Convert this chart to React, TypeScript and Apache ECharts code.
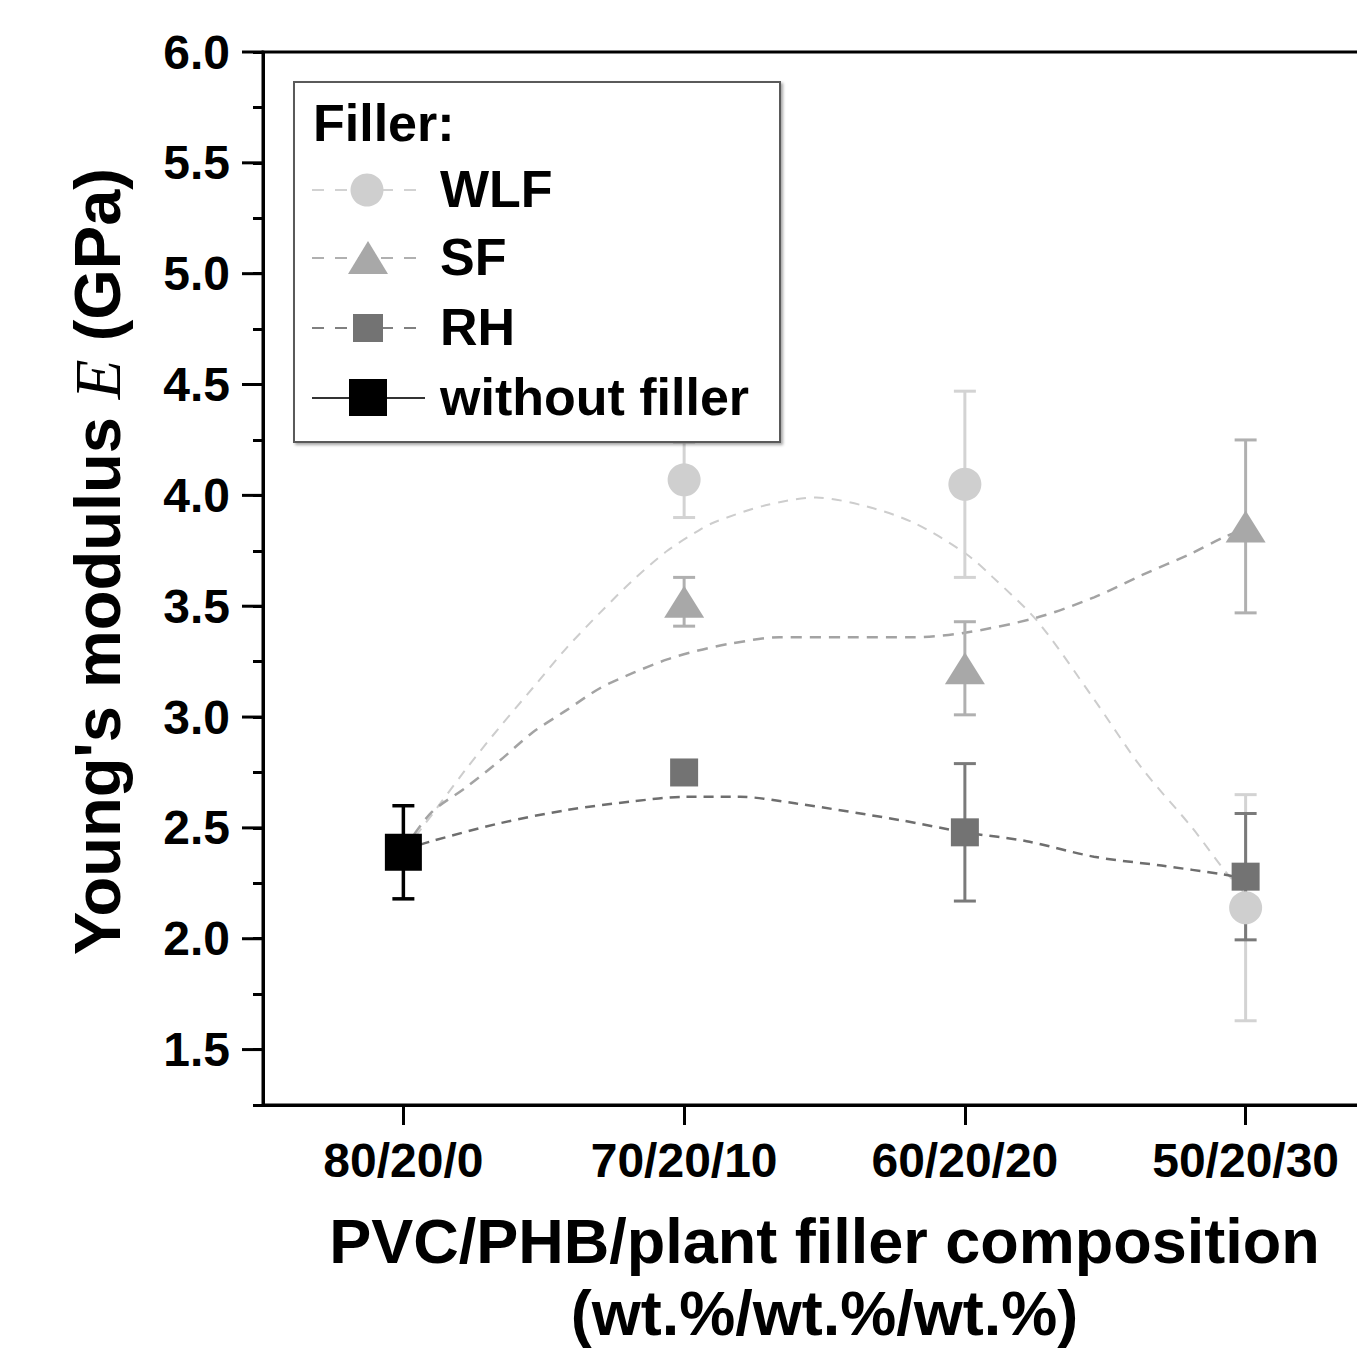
import React, { useEffect, useRef } from "react";
import * as echarts from "echarts";

// ---------- data ----------
const categories = ["80/20/0", "70/20/10", "60/20/20", "50/20/30"];
const filledX = [1, 2, 3];

const wlfMean = [4.07, 4.05, 2.14];
const wlfErr = [0.17, 0.42, 0.51];
const sfMean = [3.52, 3.22, 3.86];
const sfErr = [0.11, 0.21, 0.39];
const rhMean = [2.75, 2.48, 2.28];
const rhErr = [0.04, 0.31, 0.285];
const noFillerX = [0];
const noFillerMean = [2.39];
const noFillerErr = [0.21];

// fitted (dashed) curves: [x position, E]
const wlfFit = [
  [0, 2.4], [0.06, 2.49], [0.22, 2.76], [0.34, 2.95], [0.46, 3.13], [0.58, 3.31],
  [0.7, 3.47], [0.82, 3.62], [0.94, 3.75], [1.05, 3.84], [1.11, 3.88], [1.29, 3.955],
  [1.47, 3.99], [1.65, 3.95], [1.82, 3.875], [2.0, 3.74], [2.1, 3.63], [2.26, 3.43],
  [2.46, 3.08], [2.63, 2.77], [2.81, 2.5], [2.93, 2.3], [3.0, 2.2],
];
const sfFit = [
  [0, 2.4], [0.1, 2.57], [0.22, 2.68], [0.34, 2.8], [0.46, 2.93], [0.58, 3.03],
  [0.7, 3.13], [0.82, 3.2], [0.94, 3.26], [1.05, 3.3], [1.16, 3.33], [1.34, 3.36],
  [1.58, 3.36], [1.81, 3.36], [2.0, 3.38], [2.26, 3.45], [2.46, 3.54], [2.63, 3.64],
  [2.81, 3.74], [2.92, 3.81], [3.0, 3.85],
];
const rhFit = [
  [0, 2.4], [0.1, 2.44], [0.34, 2.52], [0.58, 2.58], [0.82, 2.62], [1.0, 2.64],
  [1.2, 2.64], [1.4, 2.61], [1.77, 2.535], [2.0, 2.48], [2.22, 2.44], [2.46, 2.37],
  [2.7, 2.33], [2.92, 2.29], [3.0, 2.27],
];

const yMajor = [1.5, 2.0, 2.5, 3.0, 3.5, 4.0, 4.5, 5.0, 5.5, 6.0];
const legendNames = ["WLF", "SF", "RH", "without filler"];

// ---------- styles ----------
const FONT = "Liberation Sans, Arial, Helvetica, sans-serif";
const C_WLF = "#cfcfcf";
const C_SF = "#a8a8a8";
const C_RH = "#737373";
const C_NF = "#000000";

function errorSeries(xs: number[], means: number[], errs: number[], color: string, lw: number, z: number) {
  return {
    type: "custom",
    xAxisIndex: 1,
    yAxisIndex: 0,
    clip: false,
    z,
    silent: true,
    data: xs.map((x, i) => [x, means[i], errs[i]]),
    renderItem: (params: any, api: any) => {
      const x = api.value(0);
      const y = api.value(1);
      const e = api.value(2);
      const top = api.coord([x, y + e]);
      const bot = api.coord([x, y - e]);
      const hw = 11;
      const st = { stroke: color, lineWidth: lw };
      return {
        type: "group",
        children: [
          { type: "line", shape: { x1: top[0], y1: top[1], x2: bot[0], y2: bot[1] }, style: st },
          { type: "line", shape: { x1: top[0] - hw, y1: top[1], x2: top[0] + hw, y2: top[1] }, style: st },
          { type: "line", shape: { x1: bot[0] - hw, y1: bot[1], x2: bot[0] + hw, y2: bot[1] }, style: st },
        ],
      };
    },
  };
}

function scatterSeries(name: string, xs: number[], means: number[], symbol: string, size: any, color: string, z: number) {
  return {
    name,
    type: "scatter",
    xAxisIndex: 1,
    yAxisIndex: 0,
    symbol,
    symbolSize: size,
    z,
    itemStyle: { color, opacity: 1 },
    data: xs.map((x, i) => [x, means[i]]),
  };
}

function fitSeries(pts: number[][], color: string, width: number, dash: number[]) {
  return {
    type: "line",
    xAxisIndex: 1,
    yAxisIndex: 0,
    smooth: 0.3,
    showSymbol: false,
    symbol: "none",
    z: 2,
    silent: true,
    lineStyle: { color, width, type: dash },
    data: pts,
  };
}

function legendGraphic() {
  const rows = [190, 258, 328, 398];
  const lx1 = 312, lx2 = 425, mx = 368, tx = 440;
  const Z = 100;
  const children: any[] = [
    {
      type: "rect",
      z: Z,
      shape: { x: 294, y: 82, width: 486, height: 360 },
      style: {
        fill: "#ffffff",
        stroke: "#5a5a5a",
        lineWidth: 2,
        shadowBlur: 3,
        shadowOffsetX: 2,
        shadowOffsetY: 2,
        shadowColor: "rgba(0,0,0,0.35)",
      },
    },
    {
      type: "text",
      z: Z + 1,
      x: 313,
      y: 123,
      style: { text: "Filler:", font: `bold 52px ${FONT}`, fill: "#000", align: "left", verticalAlign: "middle", textAlign: "left", textVerticalAlign: "middle" },
    },
  ];
  const lineColors = ["#d2d2d2", "#b0b0b0", "#808080", "#333333"];
  rows.forEach((y, i) => {
    children.push({
      type: "line",
      z: Z + 1,
      shape: { x1: lx1, y1: y, x2: lx2, y2: y },
      style: { stroke: lineColors[i], lineWidth: 2, lineDash: i < 3 ? [12, 11] : null },
    });
  });
  children.push({ type: "circle", z: Z + 2, shape: { cx: mx - 1, cy: rows[0], r: 16.5 }, style: { fill: C_WLF } });
  children.push({ type: "polygon", z: Z + 2, shape: { points: [[348, rows[1] + 16], [388, rows[1] + 16], [368, rows[1] - 17]] }, style: { fill: C_SF } });
  children.push({ type: "rect", z: Z + 2, shape: { x: 353, y: rows[2] - 14, width: 30, height: 28 }, style: { fill: C_RH } });
  children.push({ type: "rect", z: Z + 2, shape: { x: 349, y: rows[3] - 19, width: 38, height: 37 }, style: { fill: C_NF } });
  const textY = [189, 257, 327, 397];
  legendNames.forEach((n, i) => {
    children.push({
      type: "text",
      z: Z + 2,
      x: tx,
      y: textY[i],
      style: { text: n, font: `bold 52px ${FONT}`, fill: "#000", align: "left", verticalAlign: "middle", textAlign: "left", textVerticalAlign: "middle" },
    });
  });
  return { elements: [{ type: "group", z: Z, children }] };
}

export default function App() {
  const ref = useRef<HTMLDivElement>(null);

  useEffect(() => {
    if (!ref.current) return;
    const chart = echarts.init(ref.current, null, { renderer: "svg" });
    const axisColor = "#000";
    const option: any = {
      animation: false,
      backgroundColor: "#ffffff",
      grid: {
        left: 263,
        top: 52,
        width: 1123,
        height: 1053,
        outerBoundsMode: "none",
        containLabel: false,
        show: true,
        borderColor: axisColor,
        borderWidth: 3,
        backgroundColor: "transparent",
      },
      xAxis: [
        {
          type: "category",
          data: categories,
          boundaryGap: true,
          position: "bottom",
          axisLine: { show: true, onZero: false, lineStyle: { color: axisColor, width: 3 } },
          axisTick: { show: true, alignWithLabel: true, length: 20, lineStyle: { color: axisColor, width: 3 } },
          axisLabel: { color: "#000", fontSize: 48, fontWeight: "bold", fontFamily: FONT, margin: 31 },
          splitLine: { show: false },
          name: "PVC/PHB/plant filler composition\n(wt.%/wt.%/wt.%)",
          nameLocation: "middle",
          nameGap: 100,
          nameTextStyle: { color: "#000", fontSize: 63, fontWeight: "bold", fontFamily: FONT, lineHeight: 72 },
        },
        {
          type: "value",
          min: -0.5,
          max: 3.5,
          show: false,
          axisLine: { show: false, onZero: false },
          axisTick: { show: false },
          axisLabel: { show: false },
          splitLine: { show: false },
        },
      ],
      yAxis: [
        {
          type: "value",
          min: 1.25,
          max: 6.0,
          interval: 0.25,
          axisLine: { show: true, onZero: false, lineStyle: { color: axisColor, width: 3 } },
          axisTick: { show: true, length: 10, lineStyle: { color: axisColor, width: 3 } },
          axisLabel: {
            color: "#000",
            fontSize: 48,
            fontWeight: "bold",
            fontFamily: FONT,
            margin: 33,
            formatter: (v: number) => (Math.abs(v * 2 - Math.round(v * 2)) < 1e-6 ? v.toFixed(1) : ""),
          },
          splitLine: { show: false },
          name: "Young's modulus {it|E} (GPa)",
          nameLocation: "middle",
          nameGap: 133,
          nameRotate: 90,
          nameTextStyle: {
            color: "#000",
            fontSize: 65,
            fontWeight: "bold",
            fontFamily: FONT,
            padding: [0, 0, 0, 34],
            rich: {
              it: { fontFamily: "Liberation Serif, Times New Roman, serif", fontStyle: "italic", fontWeight: "normal", fontSize: 65, color: "#000" },
            },
          },
        },
      ],
      graphic: legendGraphic(),
      series: [
        // major y ticks (longer than minor ones)
        {
          type: "custom",
          xAxisIndex: 1,
          yAxisIndex: 0,
          clip: false,
          silent: true,
          z: 5,
          data: yMajor.map((v) => [-0.5, v]),
          renderItem: (params: any, api: any) => {
            const p = api.coord([-0.5, api.value(1)]);
            return { type: "line", shape: { x1: p[0] - 21, y1: p[1], x2: p[0], y2: p[1] }, style: { stroke: axisColor, lineWidth: 3 } };
          },
        },
        fitSeries(wlfFit, "#cdcdcd", 2, [10, 8]),
        fitSeries(sfFit, "#a3a3a3", 2.5, [11, 8]),
        fitSeries(rhFit, "#6e6e6e", 2.5, [10, 7]),
        errorSeries(filledX, wlfMean, wlfErr, "#d3d3d3", 3, 3),
        scatterSeries("WLF", filledX, wlfMean, "circle", 33, C_WLF, 4),
        errorSeries(filledX, sfMean, sfErr, "#b0b0b0", 3, 3),
        scatterSeries("SF", filledX, sfMean, "triangle", [40, 32], C_SF, 4),
        errorSeries(filledX, rhMean, rhErr, "#7a7a7a", 3, 3),
        scatterSeries("RH", filledX, rhMean, "rect", [28, 28], C_RH, 4),
        errorSeries(noFillerX, noFillerMean, noFillerErr, "#000000", 3.5, 3),
        scatterSeries("without filler", noFillerX, noFillerMean, "rect", [37, 37], C_NF, 4),
      ],
    };
    chart.setOption(option);
    return () => chart.dispose();
  }, []);

  return (
    <div style={{ position: "absolute", left: 0, top: 0, width: 1357, height: 1349, overflow: "hidden", background: "#fff" }}>
      <div ref={ref} style={{ width: 1420, height: 1349 }} />
    </div>
  );
}
